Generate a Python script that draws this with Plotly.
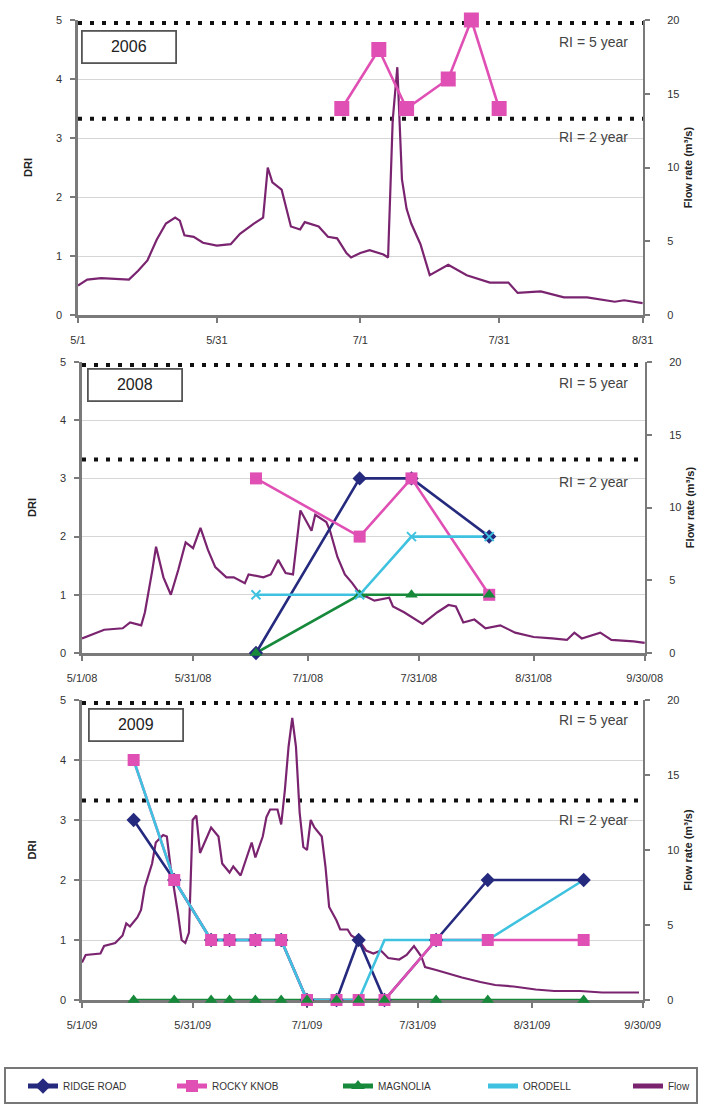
import plotly.graph_objects as go

W, H = 701, 1111

# ---------------- data ----------------
years = ["2006", "2008", "2009"]
x_start = ["2006-05-01", "2008-05-01", "2009-05-01"]
x_end = ["2006-08-31", "2008-09-30", "2009-09-30"]

tick_dates_2006 = ["2006-05-01", "2006-05-31", "2006-07-01", "2006-07-31", "2006-08-31"]
tick_labels_2006 = ["5/1", "5/31", "7/1", "7/31", "8/31"]
tick_dates_2008 = ["2008-05-01", "2008-05-31", "2008-07-01", "2008-07-31", "2008-08-31", "2008-09-30"]
tick_labels_2008 = ["5/1/08", "5/31/08", "7/1/08", "7/31/08", "8/31/08", "9/30/08"]
tick_dates_2009 = ["2009-05-01", "2009-05-31", "2009-07-01", "2009-07-31", "2009-08-31", "2009-09-30"]
tick_labels_2009 = ["5/1/09", "5/31/09", "7/1/09", "7/31/09", "8/31/09", "9/30/09"]

# Flow (m3/s)
flow_dates_2006 = ["05-01", "05-03", "05-06", "05-12", "05-14", "05-16", "05-18", "05-20", "05-22", "05-23",
                   "05-24", "05-26", "05-28", "05-31", "06-03", "06-05", "06-08", "06-10", "06-11", "06-12",
                   "06-14", "06-16", "06-18", "06-19", "06-22", "06-24", "06-26", "06-28", "06-29", "07-01",
                   "07-03", "07-06", "07-07", "07-08", "07-09", "07-10", "07-11", "07-12", "07-14", "07-16",
                   "07-20", "07-24", "07-29", "08-02", "08-04", "08-09", "08-14", "08-19", "08-25", "08-27",
                   "08-31"]
flow_2006 = [2.0, 2.4, 2.5, 2.4, 3.0, 3.7, 5.1, 6.2, 6.6, 6.4,
             5.4, 5.3, 4.9, 4.7, 4.8, 5.5, 6.2, 6.6, 10.0, 9.0,
             8.5, 6.0, 5.8, 6.3, 6.0, 5.3, 5.2, 4.2, 3.9, 4.2,
             4.4, 4.1, 3.9, 13.2, 16.8, 9.2, 7.2, 6.2, 4.8, 2.7,
             3.4, 2.7, 2.2, 2.2, 1.5, 1.6, 1.2, 1.2, 0.9, 1.0,
             0.8]

flow_dates_2008 = ["05-01", "05-05", "05-07", "05-12", "05-14", "05-17", "05-18", "05-20", "05-21", "05-23",
                   "05-25", "05-27", "05-29", "05-31", "06-02", "06-04", "06-06", "06-09", "06-11", "06-14",
                   "06-15", "06-19", "06-21", "06-23", "06-25", "06-27", "06-29", "07-02", "07-03", "07-06",
                   "07-07", "07-09", "07-11", "07-13", "07-15", "07-19", "07-23", "07-24", "07-27", "08-01",
                   "08-05", "08-08", "08-10", "08-12", "08-15", "08-18", "08-22", "08-26", "08-31", "09-05",
                   "09-09", "09-11", "09-13", "09-18", "09-21", "09-27", "09-30"]
flow_2008 = [1.0, 1.4, 1.6, 1.7, 2.1, 1.9, 2.8, 5.7, 7.3, 5.2,
             4.0, 5.7, 7.6, 7.2, 8.6, 7.1, 5.9, 5.2, 5.2, 4.8,
             5.4, 5.2, 5.4, 6.4, 5.5, 5.4, 9.8, 8.4, 9.5, 9.0,
             8.4, 6.6, 5.4, 4.8, 4.1, 3.6, 3.8, 3.2, 2.8, 2.0,
             2.8, 3.3, 3.2, 2.1, 2.3, 1.7, 1.9, 1.4, 1.1, 1.0,
             0.9, 1.4, 1.0, 1.4, 0.9, 0.8, 0.7]

flow_dates_2009 = ["05-01", "05-02", "05-06", "05-07", "05-10", "05-12", "05-13", "05-14", "05-16", "05-17",
                   "05-18", "05-20", "05-21", "05-23", "05-24", "05-25", "05-27", "05-28", "05-29", "05-30",
                   "05-31", "06-01", "06-02", "06-04", "06-05", "06-07", "06-08", "06-10", "06-11", "06-13",
                   "06-15", "06-16", "06-17", "06-19", "06-20", "06-21", "06-23", "06-24", "06-25", "06-26",
                   "06-27", "06-28", "06-29", "06-30", "07-01", "07-02", "07-03", "07-05", "07-06", "07-07",
                   "07-09", "07-10", "07-12", "07-13", "07-15", "07-17", "07-19", "07-21", "07-23", "07-26",
                   "07-28", "07-30", "08-01", "08-02", "08-05", "08-09", "08-12", "08-17", "08-21", "08-26",
                   "09-01", "09-06", "09-13", "09-19", "09-24", "09-29"]
flow_2009 = [2.5, 3.0, 3.1, 3.6, 3.8, 4.3, 5.1, 4.9, 5.5, 6.0,
             7.5, 9.1, 10.5, 11.0, 10.9, 8.9, 5.8, 4.0, 3.8, 4.5,
             12.0, 12.3, 9.8, 10.9, 11.5, 10.9, 9.1, 8.5, 8.9, 8.3,
             9.8, 10.5, 9.5, 10.9, 12.2, 12.7, 12.7, 11.7, 14.0, 16.9,
             18.8, 16.9, 12.5, 10.2, 10.0, 12.0, 11.5, 10.9, 8.9, 6.2,
             5.3, 4.7, 4.7, 4.3, 4.0, 3.3, 3.1, 3.3, 2.8, 2.7,
             3.0, 3.6, 2.9, 2.2, 2.0, 1.7, 1.5, 1.2, 1.0, 0.9,
             0.7, 0.6, 0.6, 0.5, 0.5, 0.5]

# DRI samples
sample_dates_2006 = ["2006-06-27", "2006-07-05", "2006-07-11", "2006-07-20", "2006-07-25", "2006-07-31"]
rocky_knob_2006 = [3.5, 4.5, 3.5, 4.0, 5.0, 3.5]

sample_dates_2008 = ["2008-06-17", "2008-07-15", "2008-07-29", "2008-08-19"]
ridge_road_2008 = [0, 3, 3, 2]
rocky_knob_2008 = [3, 2, 3, 1]
magnolia_2008 = [0, 1, 1, 1]
orodell_2008 = [1, 1, 2, 2]

sample_dates_2009 = ["2009-05-15", "2009-05-26", "2009-06-05", "2009-06-10", "2009-06-17", "2009-06-24",
                     "2009-07-01", "2009-07-09", "2009-07-15", "2009-07-22", "2009-08-05", "2009-08-19",
                     "2009-09-14"]
ridge_road_2009 = [3, 2, 1, 1, 1, 1, 0, 0, 1, 0, 1, 2, 2]
rocky_knob_2009 = [4, 2, 1, 1, 1, 1, 0, 0, 0, 0, 1, 1, 1]
magnolia_2009 = [0, 0, 0, 0, 0, 0, 0, 0, 0, 0, 0, 0, 0]
orodell_2009 = [4, 2, 1, 1, 1, 1, 0, 0, 0, 1, 1, 1, 2]

ri_levels = [13.3, 19.8]            # flow, m3/s
ri_labels = ["RI = 2 year", "RI = 5 year"]

series_names = ["RIDGE ROAD", "ROCKY KNOB", "MAGNOLIA", "ORODELL", "Flow"]

# ---------------- styles ----------------
STYLE = {
    "RIDGE ROAD": dict(color="#262a7e", symbol="diamond", size=11),
    "ROCKY KNOB": dict(color="#e050b4", symbol="square", size=12),
    "MAGNOLIA": dict(color="#17893b", symbol="triangle-up", size=11),
    "ORODELL": dict(color="#3fc2df", symbol="x-thin", size=9),
    "Flow": dict(color="#7a2470"),
}

# panel pixel boxes (left, right, top, bottom)
boxes = [(78, 643, 20, 315), (82, 645, 362, 653), (82, 643, 700, 1000)]


def fx(px):
    return px / W


def fy(py):
    return 1 - py / H


panel_data = [
    dict(flow_dates=["2006-" + d for d in flow_dates_2006], flow=flow_2006,
         ticks=(tick_dates_2006, tick_labels_2006),
         samples=sample_dates_2006,
         series=[("ROCKY KNOB", rocky_knob_2006)]),
    dict(flow_dates=["2008-" + d for d in flow_dates_2008], flow=flow_2008,
         ticks=(tick_dates_2008, tick_labels_2008),
         samples=sample_dates_2008,
         series=[("RIDGE ROAD", ridge_road_2008), ("ROCKY KNOB", rocky_knob_2008),
                 ("MAGNOLIA", magnolia_2008), ("ORODELL", orodell_2008)]),
    dict(flow_dates=["2009-" + d for d in flow_dates_2009], flow=flow_2009,
         ticks=(tick_dates_2009, tick_labels_2009),
         samples=sample_dates_2009,
         series=[("RIDGE ROAD", ridge_road_2009), ("ROCKY KNOB", rocky_knob_2009),
                 ("MAGNOLIA", magnolia_2009), ("ORODELL", orodell_2009)]),
]

fig = go.Figure()
layout = dict(width=W, height=H, margin=dict(l=0, r=0, t=0, b=0, autoexpand=False),
              paper_bgcolor="white", plot_bgcolor="white",
              font=dict(family="Liberation Sans, Arial, sans-serif", color="#333"),
              shapes=[], annotations=[])

AXCOL = "#7a7a7a"
TICKFONT = dict(size=11, color="#333")

for i, (pd_, box) in enumerate(zip(panel_data, boxes), start=1):
    l, r, t, b = box
    xname = "x" if i == 1 else f"x{i}"
    yf = "y" if i == 1 else f"y{2 * i - 1}"
    yd = f"y{2 * i}"
    xkey = "xaxis" if i == 1 else f"xaxis{i}"
    yfkey = "yaxis" if i == 1 else f"yaxis{2 * i - 1}"
    ydkey = f"yaxis{2 * i}"

    layout[xkey] = dict(domain=[fx(l), fx(r)], anchor=yf, type="date", automargin=False,
                        range=[x_start[i - 1], x_end[i - 1] + " 02:00"],
                        tickmode="array", tickvals=pd_["ticks"][0], ticktext=pd_["ticks"][1],
                        ticks="outside", ticklen=5, tickwidth=1.5, tickcolor=AXCOL,
                        ticklabelstandoff=8,
                        showline=True, linecolor=AXCOL, linewidth=2.5,
                        showgrid=False, zeroline=False, tickfont=TICKFONT,
                        layer="below traces", fixedrange=True)
    layout[yfkey] = dict(domain=[fy(b), fy(t)], anchor=xname, side="right", automargin=False,
                         range=[0, 20], tickvals=[0, 5, 10, 15, 20],
                         ticks="outside", ticklen=5, tickwidth=1.5, tickcolor=AXCOL,
                         ticklabelstandoff=15,
                         showline=True, linecolor=AXCOL, linewidth=2,
                         showgrid=False, zeroline=False, tickfont=TICKFONT,
                         title=dict(text="<b>Flow rate (m³/s)</b>", font=dict(size=11, color="#222"),
                                    standoff=6),
                         layer="below traces", fixedrange=True)
    layout[ydkey] = dict(overlaying=yf, anchor=xname, side="left", automargin=False,
                         range=[0, 5], tickvals=[0, 1, 2, 3, 4, 5],
                         ticks="outside", ticklen=5, tickwidth=1.5, tickcolor=AXCOL,
                         ticklabelstandoff=6,
                         showline=True, linecolor=AXCOL, linewidth=2.5,
                         showgrid=True, gridcolor="#d6d6d6", gridwidth=1,
                         zeroline=False, tickfont=TICKFONT,
                         title=dict(text="<b>DRI</b>", font=dict(size=11, color="#222"), standoff=22),
                         layer="below traces", fixedrange=True)

    # flow line (base axis, drawn underneath)
    fig.add_trace(go.Scatter(x=pd_["flow_dates"], y=pd_["flow"], mode="lines",
                             line=dict(color=STYLE["Flow"]["color"], width=2.2),
                             xaxis=xname, yaxis=yf, showlegend=False, hoverinfo="skip"))

    # DRI lines first, then markers on top
    for name, vals in pd_["series"]:
        st = STYLE[name]
        fig.add_trace(go.Scatter(x=pd_["samples"], y=vals, mode="lines",
                                 line=dict(color=st["color"], width=2.6),
                                 xaxis=xname, yaxis=yd, showlegend=False, cliponaxis=False))
    for name, vals in pd_["series"]:
        st = STYLE[name]
        if name == "ORODELL":
            if i != 2:
                continue
            mk = dict(symbol=st["symbol"], size=st["size"], color=st["color"],
                      line=dict(color=st["color"], width=2))
        else:
            mk = dict(symbol=st["symbol"], size=st["size"], color=st["color"],
                      line=dict(width=0))
            if i == 1:
                mk["size"] = 15
        fig.add_trace(go.Scatter(x=pd_["samples"], y=vals, mode="markers", marker=mk,
                                 xaxis=xname, yaxis=yd, showlegend=False, cliponaxis=False))

    # RI reference lines
    for lvl, lab in zip(ri_levels, ri_labels):
        layout["shapes"].append(dict(type="line", xref=f"{xname} domain", yref=yf,
                                     x0=0, x1=1, y0=lvl, y1=lvl, layer="below",
                                     line=dict(color="#111", width=4, dash="4px,8px")))
    # RI labels
    ri_text_y = [(137, 42), (482, 383), (820, 720)][i - 1]
    for lab, py in zip(ri_labels, ri_text_y):
        layout["annotations"].append(dict(text=lab, xref="paper", yref="paper",
                                          x=fx(630), y=fy(py), xanchor="right", yanchor="middle",
                                          showarrow=False, font=dict(size=14, color="#444")))
    # year box
    yb = [(81, 30), (87, 368), (88, 708)][i - 1]
    layout["annotations"].append(dict(text=years[i - 1], xref="paper", yref="paper",
                                      x=fx(yb[0]), y=fy(yb[1]), xanchor="left", yanchor="top",
                                      showarrow=False, font=dict(size=16, color="#222"),
                                      bgcolor="white", bordercolor="#555", borderwidth=1.8,
                                      borderpad=0, width=92, height=30))

# legend entries (one legend per item for exact placement)
leg_x = [23, 172, 338, 483, 628]
for k, name in enumerate(series_names):
    st = STYLE[name]
    lg = "legend" if k == 0 else f"legend{k + 1}"
    if name in ("Flow", "ORODELL"):
        tr = go.Scatter(x=[None], y=[None], mode="lines", name=name,
                        line=dict(color=st["color"], width=3))
    else:
        tr = go.Scatter(x=[None], y=[None], mode="lines+markers", name=name,
                        line=dict(color=st["color"], width=3),
                        marker=dict(symbol=st["symbol"], size=7, color=st["color"]))
    tr.update(xaxis="x3", yaxis="y6", legend=lg, showlegend=True)
    fig.add_trace(tr)
    layout[lg] = dict(x=fx(leg_x[k]), y=fy(1086), xanchor="left", yanchor="middle",
                      orientation="h", bgcolor="rgba(0,0,0,0)", borderwidth=0,
                      font=dict(size=10, color="#333"), itemsizing="constant")

layout["shapes"].append(dict(type="rect", xref="paper", yref="paper",
                             x0=fx(5), x1=fx(697), y0=fy(1103), y1=fy(1068),
                             line=dict(color="#777", width=2), fillcolor="rgba(0,0,0,0)",
                             layer="below"))

fig.update_layout(**layout)
fig.write_html("out.html", config={"displayModeBar": False},
               post_script="document.body.style.margin='0';")
